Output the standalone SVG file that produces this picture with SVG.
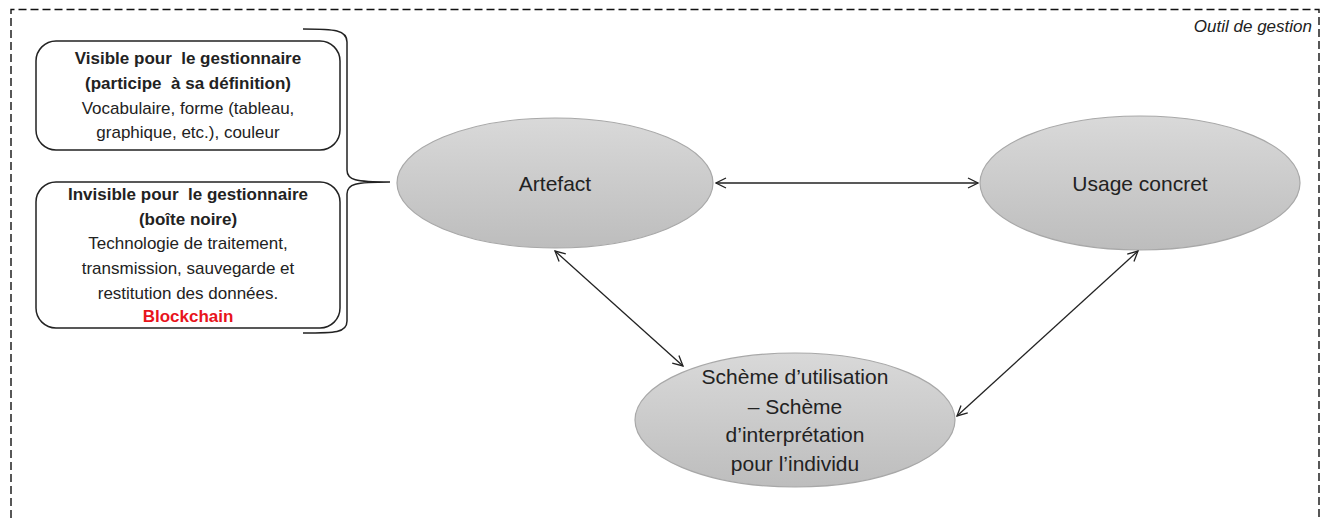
<svg xmlns="http://www.w3.org/2000/svg" width="1328" height="518" viewBox="0 0 1328 518">
<style>
.t{font-family:"Liberation Sans",Arial,sans-serif;fill:#222;text-anchor:middle;white-space:pre}
.b{font-weight:bold}
.s{font-size:17px}
.l{font-size:21px}
.box{fill:#fff;stroke:#222;stroke-width:1.5}
.ell{fill:url(#g);stroke:#a8a8a8;stroke-width:1.2}
.con{stroke:#222;stroke-width:1.3;fill:none;marker-start:url(#a);marker-end:url(#a)}
</style>
<defs>
<linearGradient id="g" x1="0" y1="0" x2="0" y2="1">
<stop offset="0" stop-color="#d9d9d9"/>
<stop offset="1" stop-color="#bdbdbd"/>
</linearGradient>
<marker id="a" viewBox="0 0 12 12" refX="11" refY="6" markerWidth="12" markerHeight="12" markerUnits="userSpaceOnUse" orient="auto-start-reverse">
<path d="M1,1 L11,6 L1,11" fill="none" stroke="#222" stroke-width="1.3"/>
</marker>
</defs>
<rect width="1328" height="518" fill="#fff"/>
<g id="frame">
<path d="M11,530 L11,9.5 L1319,9.5 L1319,530" fill="none" stroke="#111" stroke-width="1.4" stroke-dasharray="8,4"/>
<text x="1312" y="32" class="t" style="text-anchor:end;font-style:italic;font-size:17px">Outil de gestion</text>
</g>
<g id="visible">
<rect x="36" y="41" width="304" height="109" rx="20" class="box"/>
<text class="t b s" x="188" y="64" xml:space="preserve">Visible pour  le gestionnaire</text>
<text class="t b s" x="188" y="89" xml:space="preserve">(participe  à sa définition)</text>
<text class="t s" x="188" y="114">Vocabulaire, forme (tableau,</text>
<text class="t s" x="188" y="138">graphique, etc.), couleur</text>
</g>
<g id="invisible">
<rect x="36" y="182" width="304" height="146" rx="20" class="box"/>
<text class="t b s" x="188" y="200" xml:space="preserve">Invisible pour  le gestionnaire</text>
<text class="t b s" x="188" y="225">(boîte noire)</text>
<text class="t s" x="188" y="249">Technologie de traitement,</text>
<text class="t s" x="188" y="274">transmission, sauvegarde et</text>
<text class="t s" x="188" y="299">restitution des données.</text>
<text class="t b s" x="188" y="322" style="fill:#e8141c">Blockchain</text>
</g>
<g id="brace">
<path d="M303,29 C335,29 347,30 347,42 L347,170 C347,180 355,182 390,182 C355,182 347,184 347,194 L347,321 C347,333 335,333 303,333" fill="none" stroke="#222" stroke-width="1.5"/>
</g>
<g id="artefact">
<ellipse cx="555" cy="183" rx="158" ry="65" class="ell"/>
<text class="t l" x="555" y="191">Artefact</text>
</g>
<g id="usage">
<ellipse cx="1140" cy="183" rx="160" ry="67" class="ell"/>
<text class="t l" x="1140" y="191">Usage concret</text>
</g>
<g id="scheme">
<ellipse cx="795" cy="420" rx="160" ry="67" class="ell"/>
<text class="t l" x="795" y="384">Schème d’utilisation</text>
<text class="t l" x="795" y="414">– Schème</text>
<text class="t l" x="795" y="442">d’interprétation</text>
<text class="t l" x="795" y="471">pour l’individu</text>
</g>
<g id="connectors">
<line x1="716" y1="183" x2="978" y2="183" class="con"/>
<line x1="555" y1="251" x2="683" y2="366" class="con"/>
<line x1="1138" y1="251" x2="957" y2="416" class="con"/>
</g>
</svg>
